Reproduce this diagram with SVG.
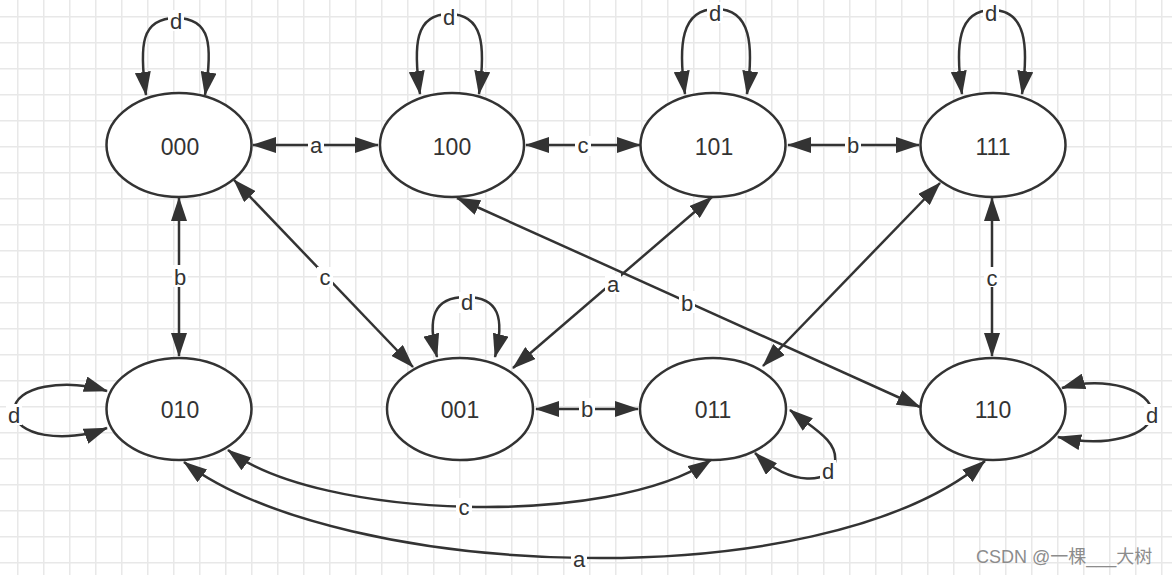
<svg xmlns="http://www.w3.org/2000/svg" width="1172" height="575" viewBox="0 0 1172 575">
<style>
.node ellipse{fill:#fff;stroke:#333;stroke-width:2.5}
.node text{font-family:"Liberation Sans",Arial,sans-serif;font-size:23px;fill:#333;text-anchor:middle}
.edge{fill:none;stroke:#333;stroke-width:2.5;marker-start:url(#ah);marker-end:url(#ah)}
.lbl rect{fill:#fff}
.lbl text{font-family:"Liberation Sans",Arial,sans-serif;font-size:22px;fill:#333;text-anchor:middle}
.wm{font-family:"Liberation Sans","Noto Sans CJK SC",sans-serif;font-size:18px;fill:#8c8c8c}
</style>
<defs>
<pattern id="grid" width="26" height="26" patternUnits="userSpaceOnUse" x="17" y="16">
<path d="M0,0.75 H26 M0.75,0 V26" stroke="#e8e8e8" stroke-width="1.5" fill="none"/>
</pattern>
<marker id="ah" markerUnits="userSpaceOnUse" viewBox="0 0 24 16" refX="23" refY="8" markerWidth="24" markerHeight="16" orient="auto-start-reverse">
<path d="M0,0 L24,8 L0,16 z" fill="#333"/>
</marker>
</defs>
<rect width="1172" height="575" fill="#fff"/>
<rect width="1172" height="575" fill="url(#grid)"/>

<g id="n000" class="node"><ellipse cx="179" cy="145" rx="72.5" ry="52"/><text x="180" y="155">000</text></g>
<g id="n100" class="node"><ellipse cx="452" cy="145" rx="72" ry="52"/><text x="452" y="155">100</text></g>
<g id="n101" class="node"><ellipse cx="713" cy="145" rx="72.5" ry="52"/><text x="714" y="155">101</text></g>
<g id="n111" class="node"><ellipse cx="993" cy="145" rx="72.5" ry="52"/><text x="993" y="155">111</text></g>
<g id="n010" class="node"><ellipse cx="179" cy="409" rx="72.5" ry="51"/><text x="180" y="418">010</text></g>
<g id="n001" class="node"><ellipse cx="460" cy="409" rx="73" ry="51"/><text x="460" y="418">001</text></g>
<g id="n011" class="node"><ellipse cx="713" cy="409" rx="73" ry="51"/><text x="713" y="418">011</text></g>
<g id="n110" class="node"><ellipse cx="993" cy="409" rx="72.5" ry="51"/><text x="993" y="418">110</text></g>

<g id="connectors">
<path class="edge" d="M253,145 L378,145"/>
<path class="edge" d="M526,145 L640,145"/>
<path class="edge" d="M788,145 L919,145"/>
<path class="edge" d="M179,198 L179,356"/>
<path class="edge" d="M992,198 L992,356"/>
<path class="edge" d="M234,180 L413,367"/>
<path class="edge" d="M712,197 L513,368"/>
<path class="edge" d="M457,198 L920,407"/>
<path class="edge" d="M940,183 L763,366"/>
<path class="edge" d="M536,409 L638,409"/>
<path class="edge" d="M228,450 C320,520 610,528 711,460"/>
<path class="edge" d="M184,462 C340,580 820,600 985,461"/>
<path class="edge" d="M146,95 C139,45 141,18 176,18 C211,18 213,45 205,95"/>
<path class="edge" d="M420,94 C413,45 415,14 449,14 C483,14 486,45 479,94"/>
<path class="edge" d="M685,94 C678,45 681,9 716,9 C751,9 754,45 747,94"/>
<path class="edge" d="M962,94 C955,45 958,10 992,10 C1026,10 1029,45 1022,94"/>
<path class="edge" d="M437,357 C427,318 433,297 466,297 C499,297 505,318 495,357"/>
<path class="edge" d="M107,391 C65,378 14,386 14,411 C14,436 65,444 107,428"/>
<path class="edge" d="M1062,388 C1105,375 1152,390 1152,413 C1152,436 1105,448 1058,437"/>
<path class="edge" d="M790,410 C812,428 838,440 835,462 C832,484 790,487 755,453"/>

<g class="lbl"><rect x="308" y="136" width="16" height="20"/><text x="316" y="153">a</text></g>
<g class="lbl"><rect x="575" y="136" width="16" height="20"/><text x="583" y="153">c</text></g>
<g class="lbl"><rect x="845" y="134" width="16" height="22"/><text x="853" y="153">b</text></g>
<g class="lbl"><rect x="172" y="265" width="16" height="22"/><text x="180" y="285">b</text></g>
<g class="lbl"><rect x="984" y="267" width="16" height="20"/><text x="992" y="286">c</text></g>
<g class="lbl"><rect x="317" y="267" width="16" height="20"/><text x="325" y="285">c</text></g>
<g class="lbl"><rect x="605" y="274" width="16" height="20"/><text x="613" y="292">a</text></g>
<g class="lbl"><rect x="679" y="291" width="16" height="22"/><text x="687" y="311">b</text></g>
<g class="lbl"><rect x="579" y="398" width="16" height="22"/><text x="587" y="417">b</text></g>
<g class="lbl"><rect x="456" y="498" width="16" height="20"/><text x="464" y="515">c</text></g>
<g class="lbl"><rect x="571" y="550" width="16" height="20"/><text x="579" y="567">a</text></g>
<g class="lbl"><rect x="168" y="10" width="16" height="21"/><text x="176" y="29">d</text></g>
<g class="lbl"><rect x="441" y="6" width="16" height="21"/><text x="449" y="25">d</text></g>
<g class="lbl"><rect x="707" y="2" width="16" height="21"/><text x="715" y="21">d</text></g>
<g class="lbl"><rect x="983" y="2" width="16" height="21"/><text x="991" y="21">d</text></g>
<g class="lbl"><rect x="459" y="292" width="16" height="21"/><text x="467" y="310">d</text></g>
<g class="lbl"><rect x="6" y="404" width="16" height="21"/><text x="14" y="423">d</text></g>
<g class="lbl"><rect x="1144" y="404" width="16" height="21"/><text x="1152" y="423">d</text></g>
<g class="lbl"><rect x="820" y="460" width="16" height="21"/><text x="828" y="479">d</text></g>
</g>

<text class="wm" x="976" y="563">CSDN @一棵___大树</text>
</svg>
